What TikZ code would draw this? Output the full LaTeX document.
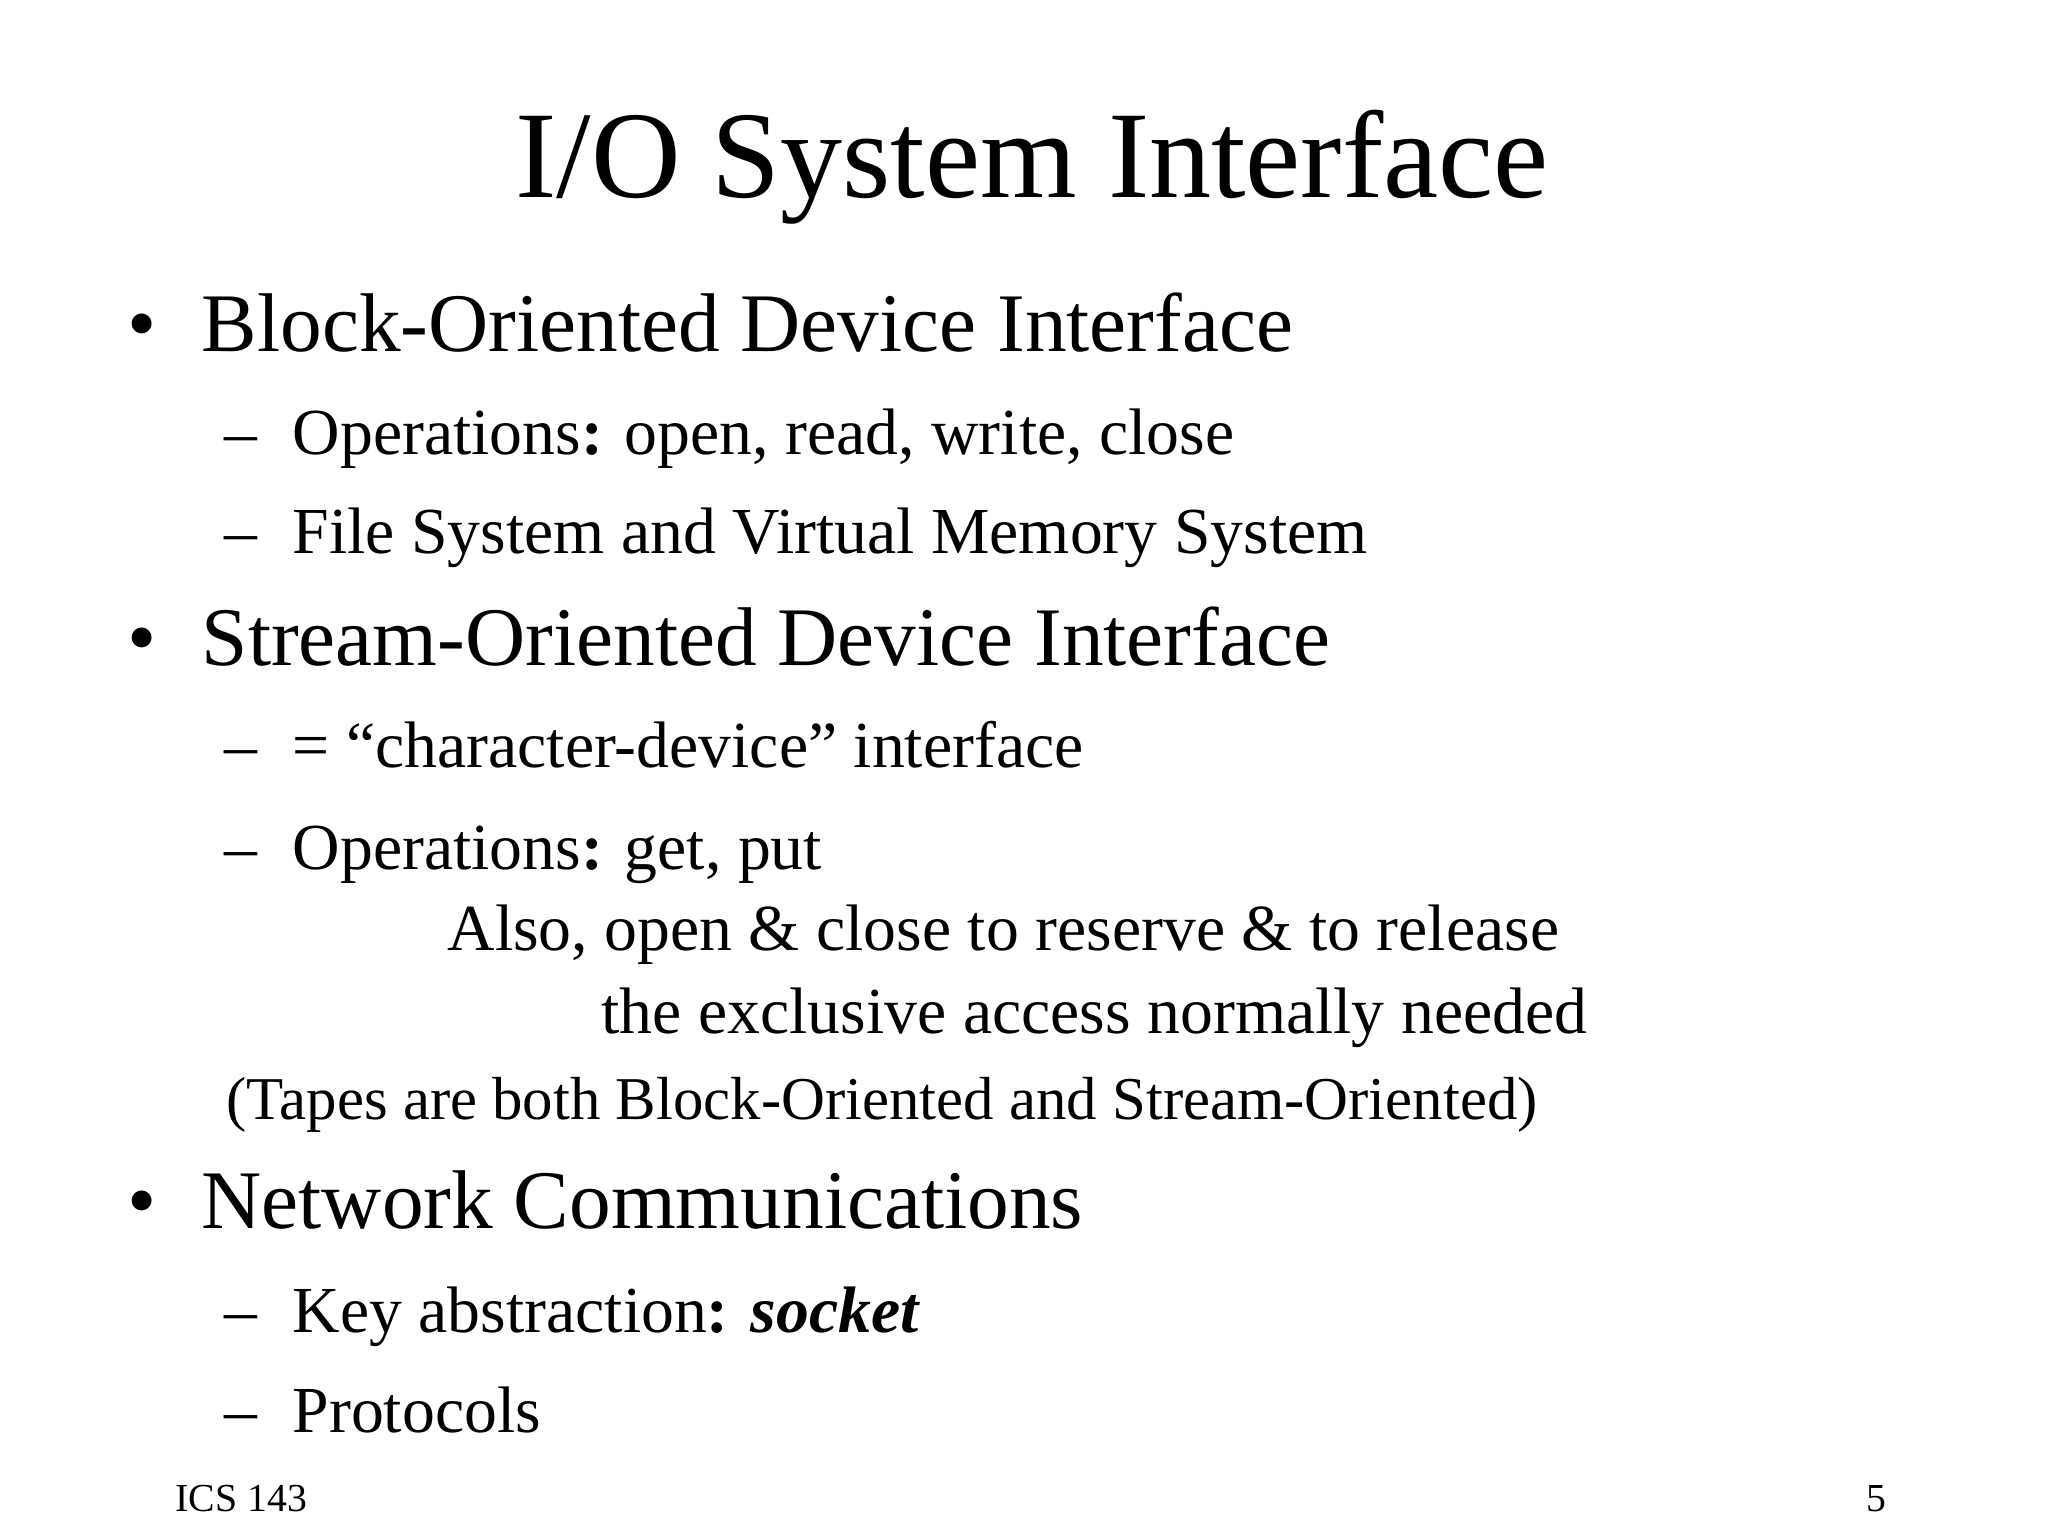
\documentclass[tikz,border=0pt]{standalone}
\usepackage{fontspec}
\setmainfont{Liberation Serif}
\begin{document}
\begin{tikzpicture}[x=0.1mm,y=-0.1mm,
  every node/.style={inner sep=0pt,anchor=base west},
  lone/.style={font=\fontsize{23.7}{28}\selectfont},
  ltwo/.style={font=\fontsize{18.7}{22}\selectfont},
  lsmall/.style={font=\fontsize{17.3}{20}\selectfont},
  foot/.style={font=\fontsize{11.3}{13}\selectfont}]
\useasboundingbox (0,0) rectangle (2048,1536);
\fill[white] (0,0) rectangle (2048,1536);
\node[anchor=base,font=\fontsize{35.3}{40}\selectfont] (title) at (1032,197) {I/O System Interface};
\node[lone] (b1) at (127,351) {•};
\node[lone] (t1) at (201,351) {Block-Oriented Device Interface};
\node[ltwo] (d11) at (224,454) {–};
\node[ltwo] (t11) at (292,454) {Operations\textbf{:} open, read, write, close};
\node[ltwo] (d12) at (224,553) {–};
\node[ltwo] (t12) at (292,553) {File System and Virtual Memory System};
\node[lone] (b2) at (127,665) {•};
\node[lone] (t2) at (201,665) {Stream-Oriented Device Interface};
\node[ltwo] (d21) at (224,767) {–};
\node[ltwo] (t21) at (292,767) {= “character-device” interface};
\node[ltwo] (d22) at (224,869) {–};
\node[ltwo] (t22) at (292,869) {Operations\textbf{:} get, put};
\node[ltwo] (t23) at (447,950) {Also, open \& close to reserve \& to release};
\node[ltwo] (t24) at (601,1033) {the exclusive access normally needed};
\node[lsmall] (t25) at (226,1119) {(Tapes are both Block-Oriented and Stream-Oriented)};
\node[lone] (b3) at (127,1228) {•};
\node[lone] (t3) at (201,1228) {Network Communications};
\node[ltwo] (d31) at (224,1332) {–};
\node[ltwo] (t31) at (292,1332) {Key abstraction\textbf{: \textit{socket}}};
\node[ltwo] (d32) at (224,1432) {–};
\node[ltwo] (t32) at (292,1432) {Protocols};
\node[foot] (f1) at (175,1511) {ICS 143};
\node[foot,anchor=base east] (f2) at (1887,1511) {5};
\end{tikzpicture}
\end{document}
